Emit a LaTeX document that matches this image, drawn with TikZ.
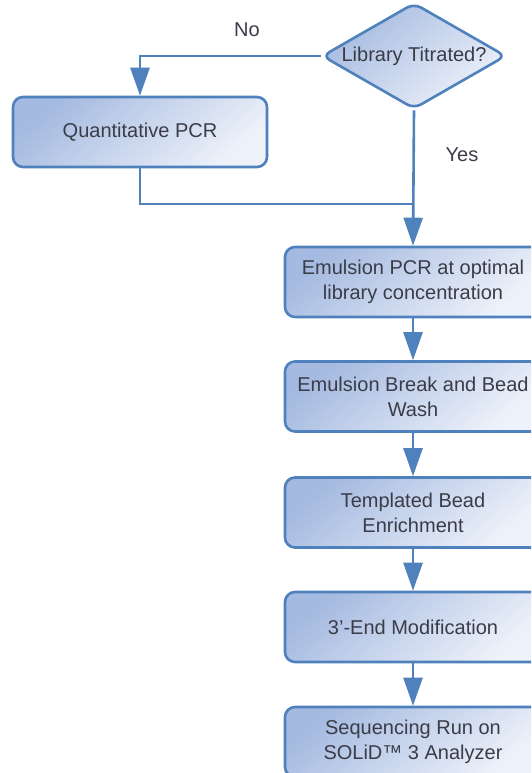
\documentclass[tikz,border=0pt]{standalone}
\usepackage{fontspec}
\setmainfont{Liberation Sans}
\usetikzlibrary{shapes.geometric,arrows.meta}
\definecolor{lineblue}{RGB}{79,129,189}
\definecolor{fillA}{RGB}{165,186,224}
\definecolor{fillB}{RGB}{238,242,250}
\definecolor{txt}{RGB}{58,60,72}
\tikzset{
  stepbox/.style={draw=lineblue, line width=2.6pt, rounded corners=10pt,
    top color=fillA, bottom color=fillB, shading angle=40,
    minimum height=70pt, inner sep=0pt, align=center, text=txt,
    font=\fontsize{20}{25}\selectfont},
  decision/.style={draw=lineblue, line width=2.6pt, rounded corners=8pt,
    diamond, minimum width=184pt, minimum height=106pt, inner sep=0pt,
    top color=fillA, bottom color=fillB, shading angle=40, text=txt,
    font=\fontsize{20}{25}\selectfont},
  conn/.style={draw=lineblue, line width=2.6pt},
  arr/.style={conn, -{Triangle[length=28pt,width=19pt]}},
  lbl/.style={text=txt, font=\fontsize{20}{25}\selectfont}
}
\begin{document}
\begin{tikzpicture}[x=1pt,y=-1pt]
\useasboundingbox (0,0) rectangle (531,773);
\clip (0,0) rectangle (531,773);
\fill[white] (0,0) rectangle (531,773);

\node[decision] (dec) at (414,56) {\makebox[0pt]{Library Titrated?}};
\node[stepbox, minimum width=254pt] (qpcr) at (140,132) {Quantitative PCR};

\node[stepbox, minimum width=256pt] (b1) at (413,282) {Emulsion PCR at optimal\\library concentration};
\node[stepbox, minimum width=256pt] (b2) at (413,396.5) {Emulsion Break and Bead\\Wash};
\node[stepbox, minimum width=256pt] (b3) at (413,512.5) {Templated Bead\\Enrichment};
\node[stepbox, minimum width=256pt] (b4) at (413,627) {3'-End Modification};
\node[stepbox, minimum width=256pt] (b5) at (413,742) {Sequencing Run on\\SOLiD™ 3 Analyzer};

\node[lbl] (no) at (247,30) {No};
\node[lbl] (yes) at (462,155) {Yes};

\coordinate (join) at (413,204);

\draw[arr] (dec.west) -| (qpcr.north);
\draw[conn] (qpcr.south) |- (join);
\draw[arr] (dec.south) -- (b1.north);
\draw[arr] (b1.south) -- (b2.north);
\draw[arr] (b2.south) -- (b3.north);
\draw[arr] (b3.south) -- (b4.north);
\draw[arr] (b4.south) -- (b5.north);
\end{tikzpicture}
\end{document}
